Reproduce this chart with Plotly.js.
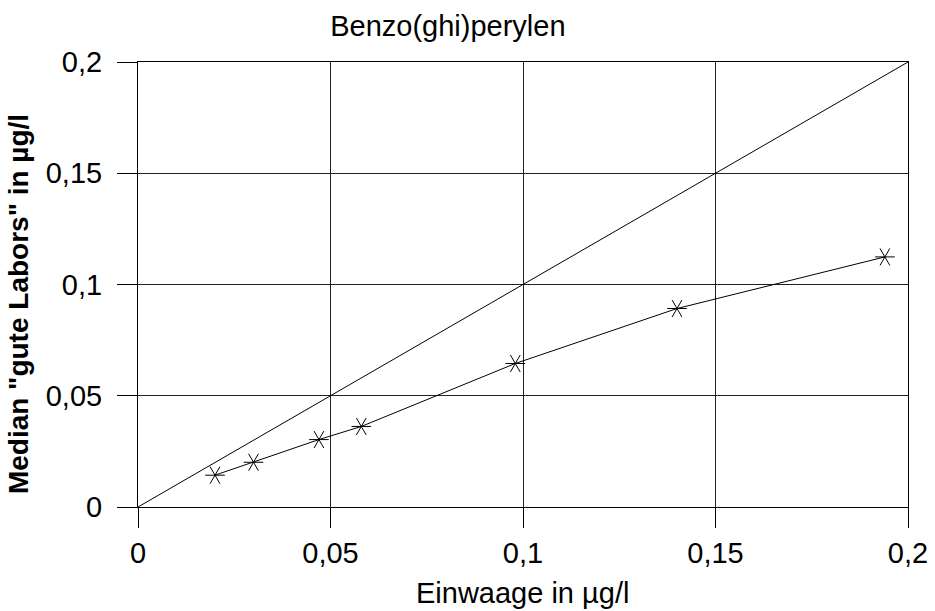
<!DOCTYPE html>
<html>
<head>
<meta charset="utf-8">
<script src="https://cdn.plot.ly/plotly-3.0.1.min.js"></script>
<style>html,body{margin:0;padding:0;background:#fff}</style>
</head>
<body>
<div id="chart" style="width:935px;height:611px"></div>
<script>
const einwaage = [0.02, 0.03, 0.047, 0.058, 0.098, 0.14, 0.194];
const median = [0.0143, 0.0201, 0.0303, 0.0362, 0.0645, 0.0892, 0.1124];
const diagX = [0, 0.2];
const diagY = [0, 0.2];
const tickVals = [0, 0.05, 0.1, 0.15, 0.2];
const tickText = ['0', '0,05', '0,1', '0,15', '0,2'];

const font = 'Liberation Sans, Arial, sans-serif';
const mk = (sym, ang, sz) => ({symbol: sym, size: sz, angle: ang, color: '#000', line: {color: '#000', width: 1}});
const data = [
  {x: diagX, y: diagY, mode: 'lines', line: {color: '#000', width: 1}, hoverinfo: 'skip'},
  {x: einwaage, y: median, mode: 'lines+markers', line: {color: '#000', width: 1}, marker: mk('line-ew-open', 0, 14)},
  {x: einwaage, y: median, mode: 'markers', marker: mk('line-ns-open', 30, 14)},
  {x: einwaage, y: median, mode: 'markers', marker: mk('line-ns-open', -30, 14)}
];
const layout = {
  width: 935, height: 611,
  margin: {l: 138, r: 27, t: 62, b: 104},
  showlegend: false,
  paper_bgcolor: '#fff', plot_bgcolor: '#fff',
  font: {family: font, color: '#000', size: 29},
  title: {text: 'Benzo(ghi)perylen', font: {size: 29, family: font}, x: 0.479, xref: 'container', xanchor: 'center', y: 0.958, yanchor: 'middle'},
  xaxis: {
    range: [0, 0.2], tickvals: tickVals, ticktext: tickText,
    showgrid: true, gridcolor: '#222', gridwidth: 1,
    showline: true, linecolor: '#000', linewidth: 1, mirror: true,
    ticks: 'outside', ticklen: 20, tickcolor: '#000', zeroline: false,
    tickfont: {size: 29, family: font}
  },
  yaxis: {
    range: [0, 0.2], tickvals: tickVals, ticktext: tickText,
    showgrid: true, gridcolor: '#222', gridwidth: 1,
    showline: true, linecolor: '#000', linewidth: 1, mirror: true,
    ticks: 'outside', ticklen: 20, tickcolor: '#000', zeroline: false,
    tickfont: {size: 29, family: font}, ticklabelstandoff: 9
  },
  annotations: [{
    text: '<b>Median "gute Labors" in µg/l</b>', textangle: -90,
    xref: 'paper', yref: 'paper', x: -0.1558, y: 0.456,
    xanchor: 'center', yanchor: 'middle', showarrow: false,
    font: {size: 28, family: font, color: '#000'}
  }, {
    text: 'Einwaage in µg/l',
    xref: 'paper', yref: 'paper', x: 0.4994, y: -0.193,
    xanchor: 'center', yanchor: 'middle', showarrow: false,
    font: {size: 29, family: font, color: '#000'}
  }]
};
Plotly.newPlot('chart', data, layout, {displayModeBar: false, staticPlot: true});
</script>
</body>
</html>
